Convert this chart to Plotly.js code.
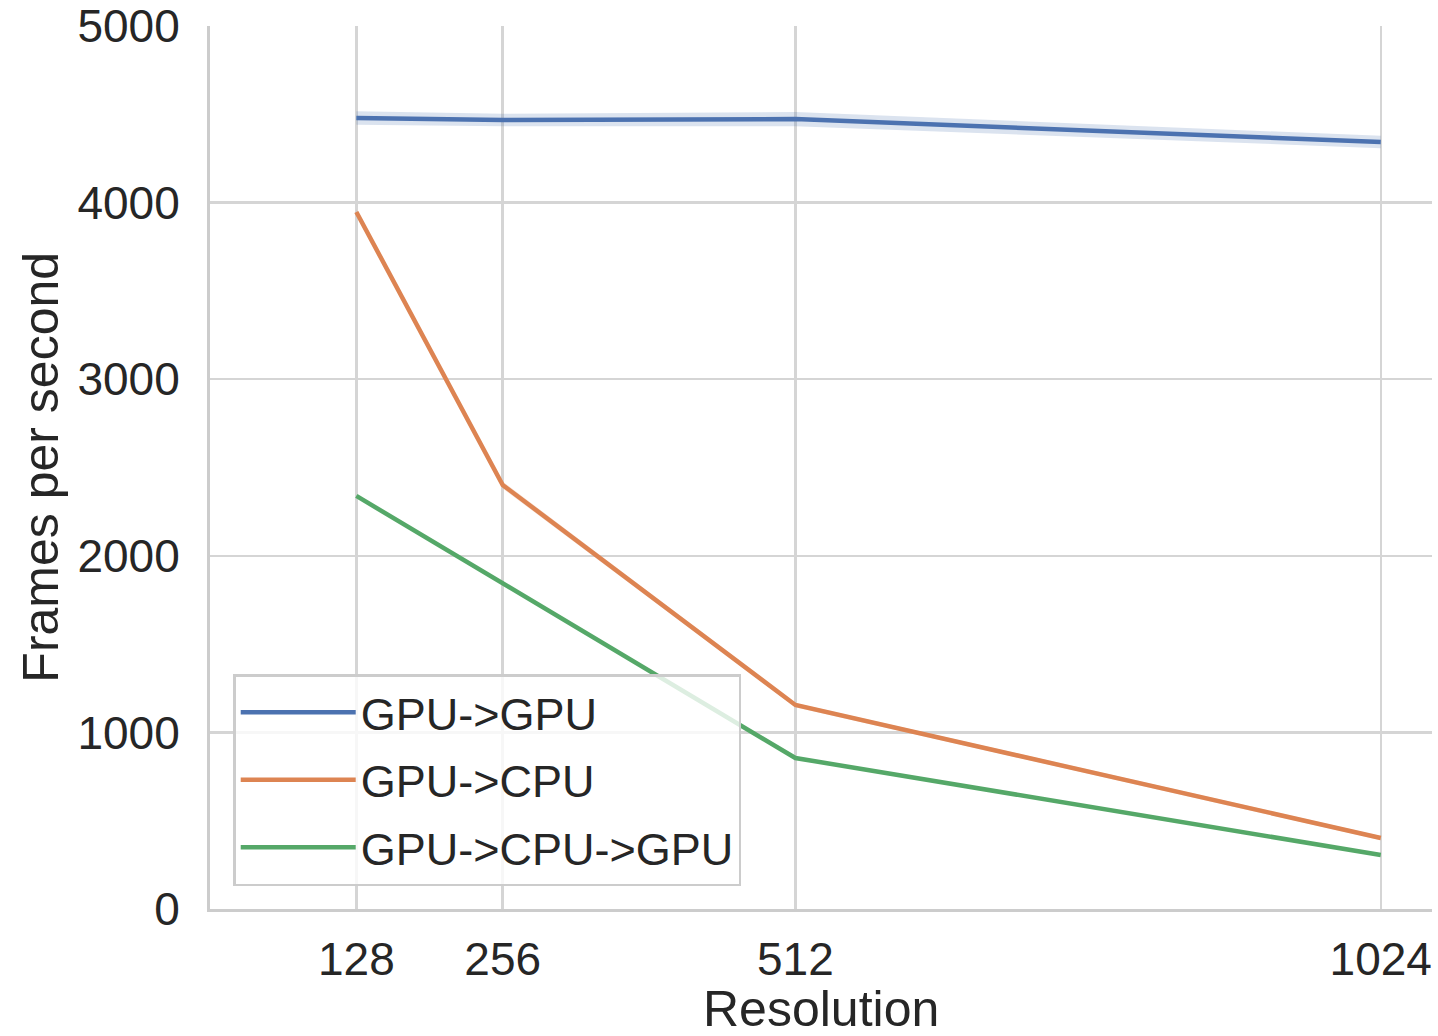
<!DOCTYPE html>
<html>
<head>
<meta charset="utf-8">
<script src="https://cdn.plot.ly/plotly-3.0.1.min.js"></script>
<style>html,body{margin:0;padding:0;background:#fff;}#chart{width:1438px;height:1036px;}</style>
</head>
<body>
<div id="chart"></div>
<script>
const resolutions = [128, 256, 512, 1024];
const seriesNames = ["GPU->GPU", "GPU->CPU", "GPU->CPU->GPU"];
const gpuGpu = [4479, 4468, 4473, 4343];
const gpuCpu = [3947, 2401, 1155, 402];
const gpuCpuGpu = [2339, 1846, 855, 306];
const gpuGpuErr = [38, 35, 40, 35];
const gpuCpuErr = [15, 20, 12, 12];
const gpuCpuGpuErr = [6, 6, 5, 5];
const xTicks = [128, 256, 512, 1024];
const yTicks = [0, 1000, 2000, 3000, 4000, 5000];
const xTitle = "Resolution";
const yTitle = "Frames per second";

const colors = ["#4c72b0", "#dd8452", "#55a868"];
const bandColors = ["rgba(76,114,176,0.2)", "rgba(221,132,82,0.2)", "rgba(85,168,104,0.2)"];
const values = [gpuGpu, gpuCpu, gpuCpuGpu];
const errs = [gpuGpuErr, gpuCpuErr, gpuCpuGpuErr];

const traces = [];
values.forEach((v, i) => {
  const upper = v.map((d, j) => d + errs[i][j]);
  const lower = v.map((d, j) => d - errs[i][j]);
  traces.push({
    x: resolutions.concat(resolutions.slice().reverse()),
    y: upper.concat(lower.slice().reverse()),
    type: "scatter", mode: "lines", fill: "toself",
    fillcolor: bandColors[i], line: {width: 0, color: "rgba(0,0,0,0)"},
    showlegend: false, hoverinfo: "skip"
  });
});
values.forEach((v, i) => {
  traces.push({
    x: resolutions, y: v, type: "scatter", mode: "lines",
    name: seriesNames[i], legendgroup: "g" + i,
    line: {color: colors[i], width: 4.5}
  });
});

const fontFam = "Liberation Sans, Arial, sans-serif";
const layout = {
  width: 1438, height: 1036,
  margin: {l: 210, r: 6, t: 26, b: 127},
  paper_bgcolor: "#fff", plot_bgcolor: "#fff",
  font: {family: fontFam, color: "#262626", size: 46},
  showlegend: true,
  xaxis: {
    range: [0, 1068.8], tickvals: xTicks, ticktext: xTicks.map(String),
    showgrid: true, gridcolor: "#d5d5d5", gridwidth: 2.5,
    showline: true, linecolor: "#cccccc", linewidth: 3,
    zeroline: false, ticks: "outside", ticklen: 8, tickcolor: "rgba(0,0,0,0)",
    tickfont: {size: 46, family: fontFam, color: "#262626"}
  },
  yaxis: {
    range: [0, 5000], tickvals: yTicks, ticktext: yTicks.map(String),
    showgrid: true, gridcolor: "#d5d5d5", gridwidth: 2.5,
    showline: true, linecolor: "#cccccc", linewidth: 3,
    zeroline: false, ticks: "outside", ticklen: 18, tickcolor: "rgba(0,0,0,0)",
    tickfont: {size: 46, family: fontFam, color: "#262626"}
  },
  annotations: [
    {text: xTitle, xref: "paper", yref: "paper", x: 0.5, y: -0.1135,
     xanchor: "center", yanchor: "middle", showarrow: false,
     font: {size: 50, family: fontFam, color: "#262626"}},
    {text: yTitle, xref: "paper", yref: "paper", x: -0.139, y: 0.5,
     xanchor: "center", yanchor: "middle", showarrow: false, textangle: -90,
     font: {size: 50, family: fontFam, color: "#262626"}}
  ],
  legend: {
    x: 0.019, y: 0.026, xanchor: "left", yanchor: "bottom",
    bgcolor: "rgba(255,255,255,0.8)", bordercolor: "#cccccc", borderwidth: 2.5,
    font: {size: 45, family: fontFam, color: "#262626"},
    itemwidth: 115, tracegroupgap: 6
  }
};
Plotly.newPlot("chart", traces, layout, {displayModeBar: false, staticPlot: true});
</script>
</body>
</html>
